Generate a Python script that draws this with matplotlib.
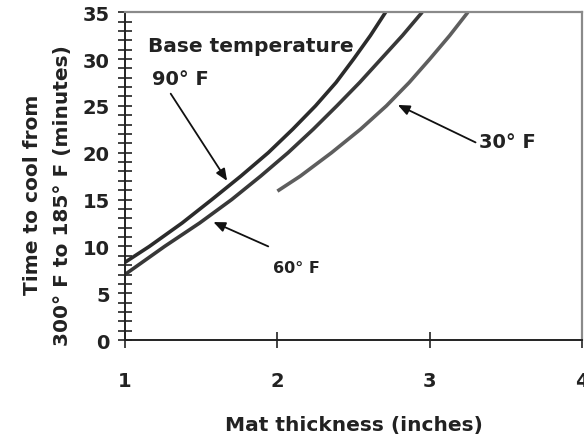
import matplotlib
matplotlib.use("Agg")
import matplotlib.pyplot as plt
from matplotlib.ticker import MultipleLocator

# Cooling time (minutes) vs mat thickness (inches)
THICK_90 = [1.00, 1.16, 1.375, 1.57, 1.76, 1.94, 2.10, 2.25, 2.385, 2.50, 2.61, 2.71]
TIME_90 = [8.3, 10.0, 12.5, 15.0, 17.5, 20.0, 22.5, 25.0, 27.5, 30.0, 32.5, 35.0]

THICK_60 = [1.00, 1.26, 1.49, 1.70, 1.89, 2.07, 2.235, 2.39, 2.54, 2.68, 2.82, 2.95]
TIME_60 = [7.0, 10.0, 12.5, 15.0, 17.5, 20.0, 22.5, 25.0, 27.5, 30.0, 32.5, 35.0]

THICK_30 = [2.00, 2.15, 2.355, 2.545, 2.715, 2.865, 3.00, 3.13, 3.25]
TIME_30 = [15.9, 17.5, 20.0, 22.5, 25.0, 27.5, 30.0, 32.5, 35.0]

X_TICKS = [1, 2, 3, 4]
Y_TICKS = [0, 5, 10, 15, 20, 25, 30, 35]

fig = plt.figure(figsize=(5.84, 4.39), dpi=100)
ax = fig.add_axes([0.214, 0.223, 0.783, 0.747])

ax.plot(THICK_90, TIME_90, color="#2b2b2b", lw=2.6, solid_capstyle="butt")
ax.plot(THICK_60, TIME_60, color="#383838", lw=2.6, solid_capstyle="butt")
ax.plot(THICK_30, TIME_30, color="#5e5e5e", lw=2.6, solid_capstyle="butt")

ax.set_xlim(1, 4)
ax.set_ylim(0, 35)
ax.set_xticks(X_TICKS)
ax.set_yticks(Y_TICKS)
ax.yaxis.set_minor_locator(MultipleLocator(1))

ax.tick_params(axis="both", which="both", direction="inout", color="#222222",
               width=1.2, labelsize=14)
ax.tick_params(axis="y", which="both", length=10, pad=6)
ax.tick_params(axis="x", which="major", length=11, pad=17)
for lab in ax.get_xticklabels() + ax.get_yticklabels():
    lab.set_fontweight("bold")
    lab.set_color("#222222")

for side in ("left", "bottom"):
    ax.spines[side].set_color("#222222")
    ax.spines[side].set_linewidth(1.4)
for side in ("top", "right"):
    ax.spines[side].set_color("#8a8a8a")
    ax.spines[side].set_linewidth(1.6)

ax.set_xlabel("Mat thickness (inches)", fontsize=14.5, fontweight="bold",
              color="#222222", labelpad=18)
ax.set_ylabel("Time to cool from\n300\u00b0 F to 185\u00b0 F (minutes)",
              fontsize=14.5, fontweight="bold", color="#222222",
              linespacing=1.75)
ax.yaxis.set_label_coords(-0.116, 0.445)

txt = dict(fontweight="bold", color="#222222")
ax.text(1.15, 31.4, "Base temperature", fontsize=14.5, ha="left", va="center", **txt)
ax.text(1.18, 27.9, "90\u00b0 F", fontsize=14, ha="left", va="center", **txt)
ax.text(1.97, 7.8, "60\u00b0 F", fontsize=11.5, ha="left", va="center", **txt)
ax.text(3.32, 21.2, "30\u00b0 F", fontsize=14, ha="left", va="center", **txt)

arrow = dict(arrowstyle="-|>,head_length=0.7,head_width=0.3", color="#111111",
             lw=1.3, shrinkA=0, shrinkB=0)
ax.annotate("", xy=(1.67, 17.0), xytext=(1.30, 26.3), arrowprops=arrow)
ax.annotate("", xy=(1.58, 12.6), xytext=(1.94, 10.0), arrowprops=arrow)
ax.annotate("", xy=(2.79, 25.1), xytext=(3.30, 21.1), arrowprops=arrow)

fig.savefig("out.png", dpi=100, facecolor="white")
